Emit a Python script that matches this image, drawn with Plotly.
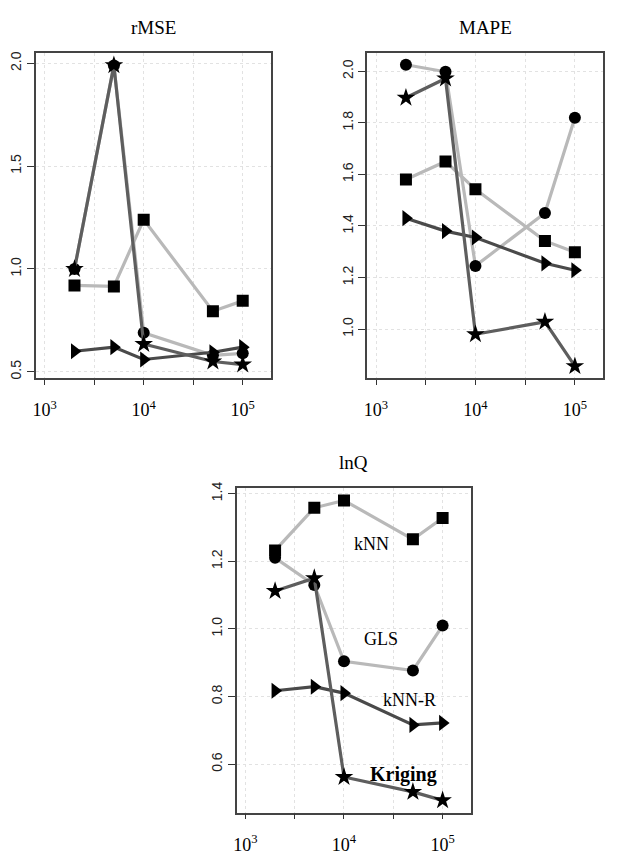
import plotly.graph_objects as go

# sample sizes (x axis, log scale)
n_sizes = [2000, 5000, 10000, 50000, 100000]

# rMSE panel
rmse_gls = [1.0, 1.99, 0.69, 0.58, 0.59]
rmse_knn = [0.92, 0.915, 1.24, 0.795, 0.845]
rmse_knnr = [0.60, 0.62, 0.56, 0.595, 0.62]
rmse_kriging = [1.0, 1.99, 0.635, 0.55, 0.535]

# MAPE panel
mape_gls = [2.025, 1.998, 1.245, 1.45, 1.82]
mape_knn = [1.58, 1.65, 1.542, 1.342, 1.298]
mape_knnr = [1.43, 1.38, 1.355, 1.255, 1.228]
mape_kriging = [1.897, 1.972, 0.98, 1.028, 0.856]

# lnQ panel
lnq_gls = [1.21, 1.13, 0.904, 0.877, 1.01]
lnq_knn = [1.232, 1.358, 1.38, 1.265, 1.328]
lnq_knnr = [0.817, 0.829, 0.81, 0.716, 0.722]
lnq_kriging = [1.112, 1.15, 0.562, 0.518, 0.493]

x_tickvals = [1000, 3162.28, 10000, 31622.8, 100000]
x_ticktext = ['10<sup>3</sup>', '', '10<sup>4</sup>', '', '10<sup>5</sup>']

LIGHT = '#b9b9b9'
DARK = '#5e5e5e'
DARKER = '#4a4a4a'
SERIF = 'Liberation Serif, DejaVu Serif, serif'
SANS = 'Liberation Sans, Arial, sans-serif'

styles = [
    ('GLS', LIGHT, 'circle', 12),
    ('kNN', LIGHT, 'square', 12),
    ('kNN-R', DARKER, 'triangle-right', 14),
    ('Kriging', DARK, 'star', 14),
]

panels = [
    ('rMSE', [rmse_gls, rmse_knn, rmse_knnr, rmse_kriging]),
    ('MAPE', [mape_gls, mape_knn, mape_knnr, mape_kriging]),
    ('lnQ', [lnq_gls, lnq_knn, lnq_knnr, lnq_kriging]),
]

# the page body has an 8px margin, so the figure starts at (8, 8)
OFF = 8
W, H = 640 - OFF, 855 - OFF
# panel boxes in window pixels: left, right, top, bottom
boxes = [(29, 267, 47, 376), (364, 603, 47, 376), (232, 469, 488, 817)]
yranges = [[0.471, 2.048], [0.811, 2.069], [0.457, 1.416]]
ydticks = [0.5, 0.2, 0.2]
ytick0 = [0.5, 1.0, 0.6]
title_y = [21, 21, 462]

fig = go.Figure()
layout = dict(
    width=W, height=H,
    margin=dict(l=0, r=0, t=0, b=0),
    paper_bgcolor='white', plot_bgcolor='white',
    showlegend=False,
    annotations=[],
)

for i, (title, series) in enumerate(panels):
    k = '' if i == 0 else str(i + 1)
    for (name, color, symbol, size), vals in zip(styles, series):
        fig.add_trace(go.Scatter(
            x=n_sizes, y=vals, name=name, mode='lines+markers',
            xaxis='x' + k, yaxis='y' + k,
            line=dict(color=color, width=3.2),
            marker=dict(symbol=symbol, size=size, color='black',
                        line=dict(width=0)),
        ))
    l, r, t, b = [v - OFF for v in boxes[i]]
    layout['xaxis' + k] = dict(
        type='log', range=[2.91, 5.287],
        domain=[l / W, r / W], anchor='y' + k,
        tickvals=x_tickvals, ticktext=x_ticktext,
        ticks='outside', ticklen=5, tickwidth=1.2, tickcolor='#333',
        ticklabelstandoff=10,
        tickfont=dict(family=SERIF, size=18, color='black'),
        showline=True, linecolor='#444', linewidth=1.5, mirror=True,
        showgrid=True, gridcolor='#e2e2e2', griddash='dot', gridwidth=1,
        zeroline=False,
    )
    layout['yaxis' + k] = dict(
        range=yranges[i], tick0=ytick0[i], dtick=ydticks[i],
        domain=[1 - b / H, 1 - t / H], anchor='x' + k,
        ticks='outside', ticklen=7, tickwidth=1.2, tickcolor='#333',
        tickangle=-90, tickformat='.1f',
        tickfont=dict(family=SANS, size=14, color='#222'),
        showline=True, linecolor='#444', linewidth=1.5, mirror=True,
        showgrid=True, gridcolor='#e2e2e2', griddash='dot', gridwidth=1,
        zeroline=False,
    )
    layout['annotations'].append(dict(
        text=title, xref='paper', yref='paper',
        x=(l + r) / 2 / W, y=1 - (title_y[i] - OFF) / H,
        xanchor='center', yanchor='middle', showarrow=False,
        font=dict(family=SERIF, size=19, color='black'),
    ))

# method labels in the lnQ panel
labels = [('kNN', 4.28, 1.25, False), ('GLS', 4.38, 0.969, False),
          ('kNN-R', 4.667, 0.789, False), ('Kriging', 4.60, 0.570, True)]
for text, lx, ly, bold in labels:
    layout['annotations'].append(dict(
        text='<b>%s</b>' % text if bold else text,
        xref='x3', yref='y3', x=lx, y=ly, showarrow=False,
        xanchor='center', yanchor='middle',
        font=dict(family=SERIF, size=20 if bold else 18, color='black'),
    ))

fig.update_layout(**layout)
fig.write_html('out.html')
